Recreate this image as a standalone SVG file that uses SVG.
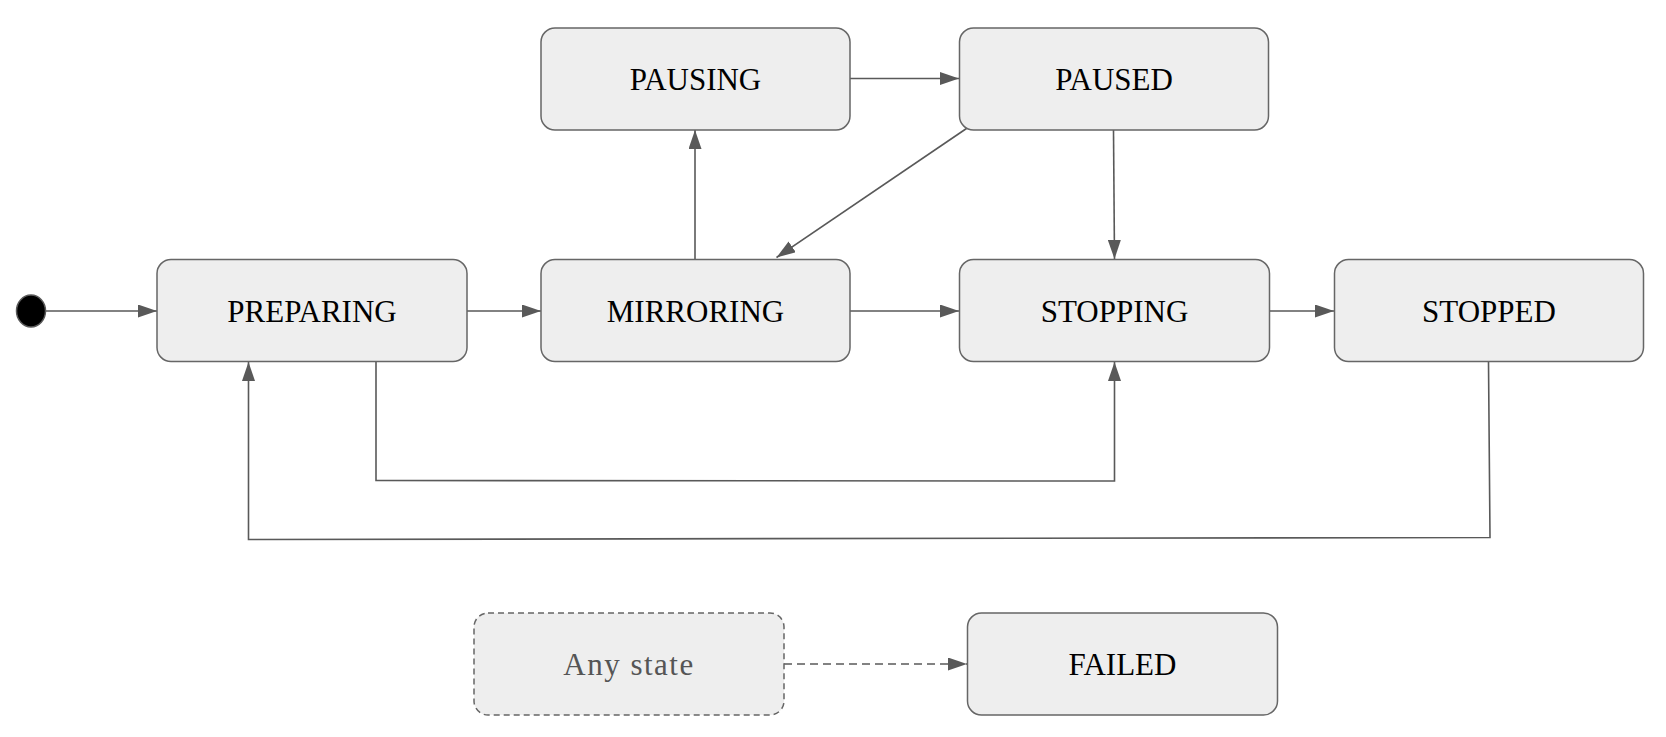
<svg xmlns="http://www.w3.org/2000/svg" width="1666" height="737" viewBox="0 0 1666 737">
<style>
.box{fill:#eeeeee;stroke:#666666;stroke-width:1.5}
.dash{stroke-dasharray:6 4}
.lbl{font-family:"Liberation Serif",serif;font-size:31px;fill:#000;text-anchor:middle;dominant-baseline:central}
.gray{fill:#555555;letter-spacing:1.5px}
.c{fill:none;stroke:#595959;stroke-width:1.6}
.cd{stroke-dasharray:8 5}
</style>
<defs>
<marker id="ah" viewBox="0 0 19 13" refX="19" refY="6.5" markerWidth="19" markerHeight="13" markerUnits="userSpaceOnUse" orient="auto">
<path d="M0,0 L19,6.5 L0,13 Z" fill="#595959"/>
</marker>
</defs>
<rect width="1666" height="737" fill="#ffffff"/>
<g id="connectors">
<line class="c" x1="46" y1="311" x2="157" y2="311" marker-end="url(#ah)"/>
<line class="c" x1="467" y1="311" x2="541" y2="311" marker-end="url(#ah)"/>
<line class="c" x1="850" y1="311" x2="959" y2="311" marker-end="url(#ah)"/>
<line class="c" x1="1270" y1="311" x2="1334" y2="311" marker-end="url(#ah)"/>
<line class="c" x1="695" y1="259" x2="695" y2="130" marker-end="url(#ah)"/>
<line class="c" x1="850" y1="78.5" x2="959" y2="78.5" marker-end="url(#ah)"/>
<line class="c" x1="966.5" y1="128.5" x2="776.5" y2="257.5" marker-end="url(#ah)"/>
<line class="c" x1="1113.5" y1="130" x2="1114.5" y2="259" marker-end="url(#ah)"/>
<polyline class="c" points="376,362 376,480.5 1114.5,481 1114.5,362" marker-end="url(#ah)"/>
<polyline class="c" points="1488.5,362 1490,537.5 248.5,539.5 248.5,362" marker-end="url(#ah)"/>
<line class="c cd" x1="784" y1="664" x2="967" y2="664" marker-end="url(#ah)"/>
</g>
<g id="start"><ellipse cx="31" cy="311" rx="14.5" ry="16" fill="#000" stroke="#595959" stroke-width="1.5"/></g>
<g id="preparing"><rect class="box" x="157" y="259.5" width="310" height="102" rx="14"/><text class="lbl" x="312" y="311">PREPARING</text></g>
<g id="mirroring"><rect class="box" x="541" y="259.5" width="309" height="102" rx="14"/><text class="lbl" x="695.5" y="311">MIRRORING</text></g>
<g id="stopping"><rect class="box" x="959.5" y="259.5" width="310" height="102" rx="14"/><text class="lbl" x="1114.5" y="311">STOPPING</text></g>
<g id="stopped"><rect class="box" x="1334.5" y="259.5" width="309" height="102" rx="14"/><text class="lbl" x="1489" y="311">STOPPED</text></g>
<g id="pausing"><rect class="box" x="541" y="28" width="309" height="102" rx="14"/><text class="lbl" x="695.5" y="79">PAUSING</text></g>
<g id="paused"><rect class="box" x="959.5" y="28" width="309" height="102" rx="14"/><text class="lbl" x="1114" y="79">PAUSED</text></g>
<g id="any-state"><rect class="box dash" x="474" y="613" width="310" height="102" rx="14"/><text class="lbl gray" x="629" y="664">Any state</text></g>
<g id="failed"><rect class="box" x="967.5" y="613" width="310" height="102" rx="14"/><text class="lbl" x="1122.5" y="664">FAILED</text></g>
</svg>
